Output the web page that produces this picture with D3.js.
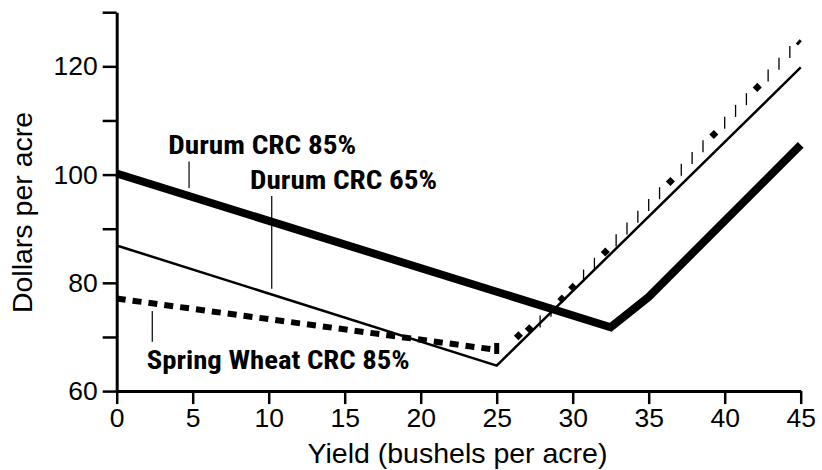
<!DOCTYPE html>
<html>
<head>
<meta charset="utf-8">
<script src="https://cdn.jsdelivr.net/npm/d3@7"></script>
<style>
  html, body { margin: 0; padding: 0; background: #fff; }
  svg { display: block; }
</style>
</head>
<body>
<svg id="chart" width="822" height="470"></svg>
<script>
// ---------- data ----------
const xTickValues = [0, 5, 10, 15, 20, 25, 30, 35, 40, 45];
const yTickValues = [60, 70, 80, 90, 100, 110, 120, 130];
const yLabelValues = [60, 80, 100, 120];

const durum85X = [0, 32.5, 35, 45];
const durum85Y = [100.2, 71.8, 77.4, 105.5];

const durum65X = [0, 25, 45];
const durum65Y = [86.9, 64.7, 119.8];

const springX = [0, 25, 28, 45];
const springY = [77.1, 67.6, 73.1, 124.8];

const labelTexts = ["Durum CRC 85%", "Durum CRC 65%", "Spring Wheat CRC 85%"];
const labelX = [3.39, 8.77, 1.97];
const labelY = [103.8, 97.3, 64.03];
const pointerX = [4.76, 10.2, 2.34];
const pointerTop = [102.4, 96.05, 74.8];
const pointerBottom = [97.5, 78.9, 69.1];

const xTitle = "Yield (bushels per acre)";
const yTitle = "Dollars per acre";

// ---------- layout / style ----------
const svg = d3.select("#chart");
const x = d3.scaleLinear().domain([0, 45]).range([116.7, 800.7]);
const y = d3.scaleLinear().domain([60, 130]).range([391.1, 12.2]);
const labelWidths = [188, 187, 263];
const fontMain = "'Liberation Sans', 'Arimo', 'Arial'";
const fontCond = "'Roboto Condensed', 'Liberation Sans'";

const line = d3.line().x(d => x(d[0])).y(d => y(d[1]));
const pts = (xs, ys) => xs.map((v, i) => [v, ys[i]]);

// Durum CRC 85% (thick)
svg.append("path")
  .attr("d", line(pts(durum85X, durum85Y)))
  .attr("fill", "none").attr("stroke", "#000")
  .attr("stroke-width", 8).attr("stroke-linejoin", "miter");

// Durum CRC 65% (thin)
svg.append("path")
  .attr("d", line(pts(durum65X, durum65Y)))
  .attr("fill", "none").attr("stroke", "#000")
  .attr("stroke-width", 2.5).attr("stroke-linejoin", "miter");

// Spring Wheat CRC 85% : dashed flat part
svg.append("path")
  .attr("d", line(pts(springX.slice(0, 2), springY.slice(0, 2))))
  .attr("fill", "none").attr("stroke", "#000")
  .attr("stroke-width", 6).attr("stroke-dasharray", "9,7");

// rising part drawn as tick / diamond pattern along the line
const springAt = d3.scaleLinear().domain(springX).range(springY);
const x0 = springX[1], x1 = springX[springX.length - 1];
const nSteps = 28;
const diamondIdx = new Set([2, 3, 6, 7, 10, 16, 20, 24]);
const deco = svg.append("g");
for (let k = 0; k <= nSteps; k++) {
  const v = x0 + (x1 - x0) * k / nSteps;
  const px = x(v), py = y(springAt(v));
  if (k === 0) {
    deco.append("rect").attr("x", px - 2.5).attr("y", py - 7).attr("width", 5).attr("height", 11).attr("fill", "#000");
  } else if (k === nSteps) {
    const vb = v - 0.25;
    deco.append("line")
      .attr("x1", x(vb)).attr("y1", y(springAt(vb)))
      .attr("x2", px).attr("y2", py)
      .attr("stroke", "#000").attr("stroke-width", 3);
  } else if (k === 1) {
    // gap
  } else if (diamondIdx.has(k)) {
    deco.append("rect")
      .attr("x", -3.2).attr("y", -3.2).attr("width", 6.4).attr("height", 6.4)
      .attr("transform", `translate(${px},${py}) rotate(45)`)
      .attr("fill", "#000");
  } else {
    deco.append("line")
      .attr("x1", px).attr("x2", px)
      .attr("y1", py - 6).attr("y2", py + 6)
      .attr("stroke", "#000").attr("stroke-width", 1.3);
  }
}

// ---------- axes ----------
const xAxis = d3.axisBottom(x).tickValues(xTickValues).tickSize(13).tickSizeOuter(0).tickPadding(4);
const gx = svg.append("g").attr("transform", `translate(0,${y(60)})`).call(xAxis);
gx.select(".domain").attr("stroke-width", 3);
gx.selectAll(".tick line").attr("stroke-width", 2.5);
gx.selectAll(".tick text").style("font-size", "26.5px").style("font-family", fontMain).attr("fill", "#000");

const yAxis = d3.axisLeft(y).tickValues(yTickValues).tickSize(14).tickSizeOuter(0).tickPadding(5)
  .tickFormat(d => yLabelValues.includes(d) ? String(d) : "");
const gy = svg.append("g").attr("transform", `translate(${x(0)},0)`).call(yAxis);
gy.select(".domain").attr("stroke-width", 3);
gy.selectAll(".tick line").attr("stroke-width", 2.5);
gy.selectAll(".tick text").style("font-size", "26.5px").style("font-family", fontMain).attr("fill", "#000");

// axis titles
svg.append("text")
  .attr("x", 457.5).attr("y", 463.3)
  .attr("text-anchor", "middle")
  .style("font-family", fontMain).style("font-size", "28.5px")
  .text(xTitle);

svg.append("text")
  .attr("transform", "translate(31.5,212.5) rotate(-90)")
  .attr("text-anchor", "middle")
  .style("font-family", fontMain).style("font-size", "28.5px")
  .text(yTitle);

// ---------- annotations ----------
labelTexts.forEach((t, i) => {
  svg.append("line")
    .attr("x1", x(pointerX[i])).attr("x2", x(pointerX[i]))
    .attr("y1", y(pointerTop[i])).attr("y2", y(pointerBottom[i]))
    .attr("stroke", "#000").attr("stroke-width", 1.2);
  svg.append("text")
    .attr("x", x(labelX[i])).attr("y", y(labelY[i]))
    .style("font-family", fontCond).style("font-weight", "bold")
    .style("font-size", "25.5px")
    .attr("textLength", labelWidths[i]).attr("lengthAdjust", "spacingAndGlyphs")
    .text(t);
});
</script>
</body>
</html>
